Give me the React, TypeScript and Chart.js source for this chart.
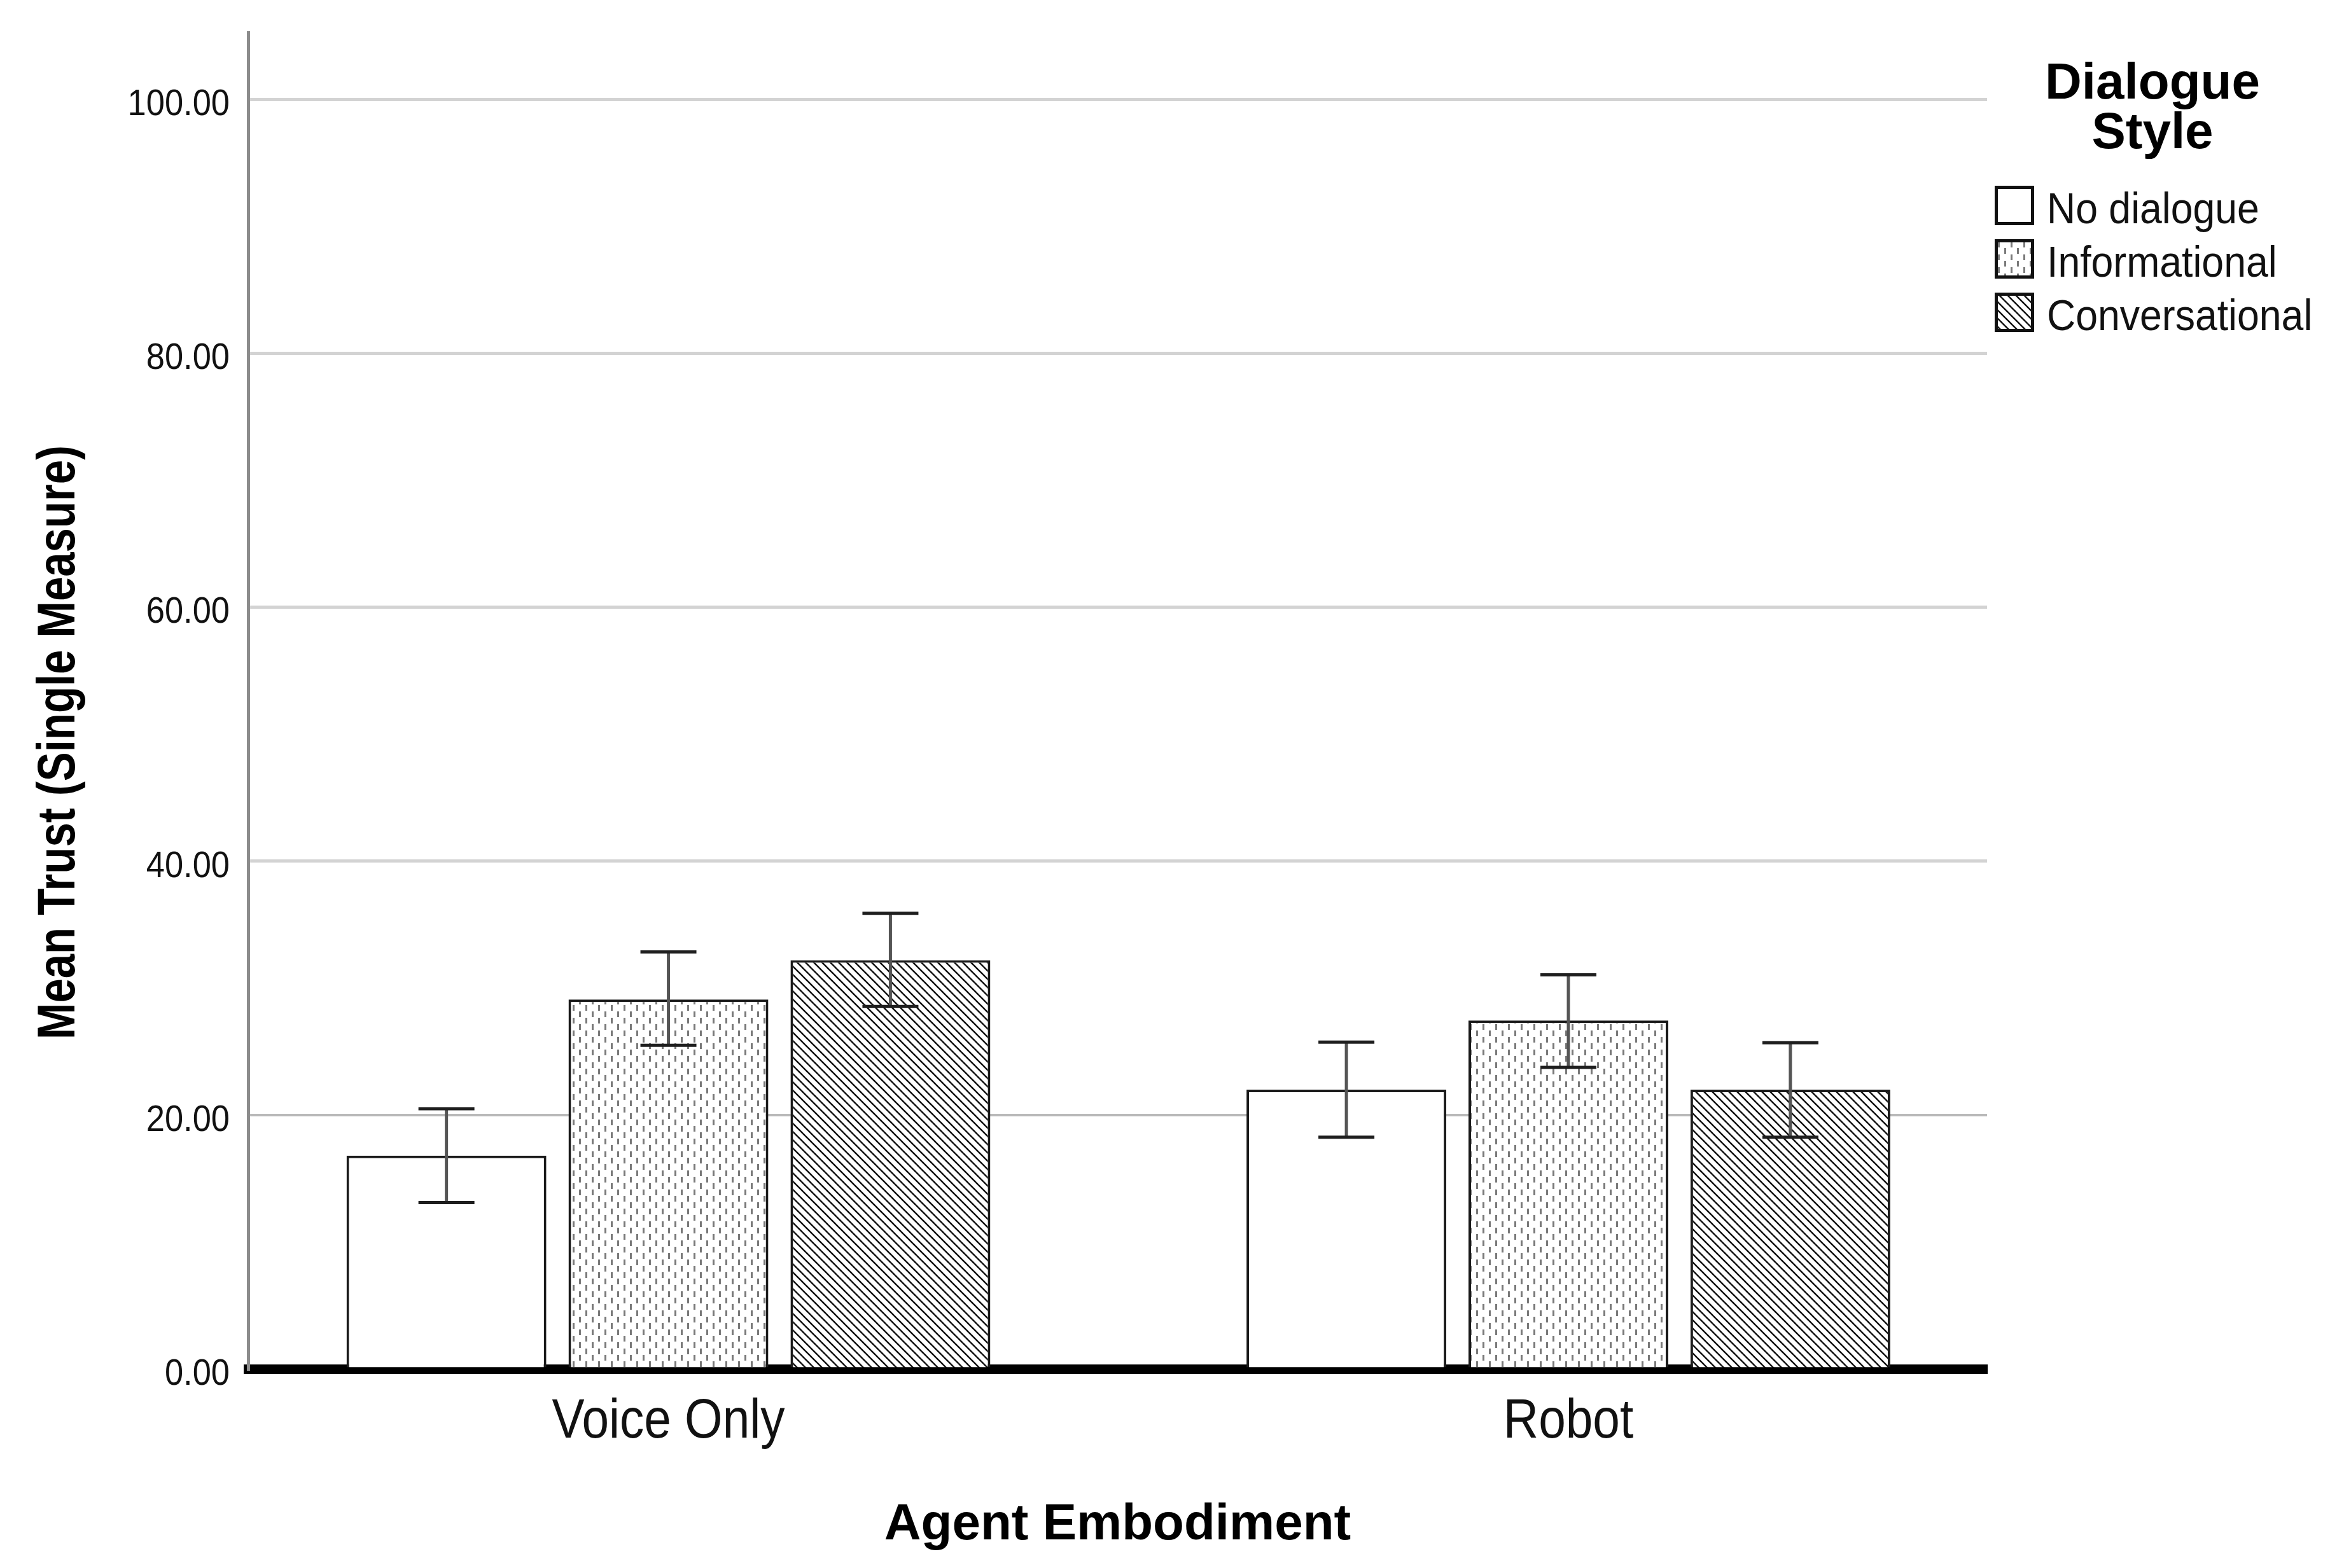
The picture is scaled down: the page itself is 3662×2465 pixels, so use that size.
import { useEffect, useRef } from 'react';
import { Chart, registerables } from 'chart.js';

Chart.register(...registerables);

// data (means with 95% CI bounds)
const embodiments = ['Voice Only', 'Robot'];
const dialogueStyles = ['No dialogue', 'Informational', 'Conversational'];

const noDialogueMean = [16.8, 22.0];
const noDialogueLow = [13.1, 18.25];
const noDialogueHigh = [20.5, 25.75];

const informationalMean = [29.1, 27.45];
const informationalLow = [25.5, 23.75];
const informationalHigh = [32.85, 31.05];

const conversationalMean = [32.2, 22.0];
const conversationalLow = [28.55, 18.25];
const conversationalHigh = [35.9, 25.7];

const yTickStep = 20;

const FONT = "'Liberation Sans', Arial, sans-serif";

const makeDotPattern = () => {
  const c = document.createElement('canvas');
  c.width = 20;
  c.height = 20;
  const g = c.getContext('2d');
  g.fillStyle = '#ffffff';
  g.fillRect(0, 0, 20, 20);
  g.fillStyle = '#7a7a7a';
  g.fillRect(0, 0, 3, 9);
  g.fillRect(10, 10, 3, 9);
  return g.createPattern(c, 'repeat');
};

const makeHatchPattern = () => {
  const s = 13;
  const c = document.createElement('canvas');
  c.width = s;
  c.height = s;
  const g = c.getContext('2d');
  g.fillStyle = '#ffffff';
  g.fillRect(0, 0, s, s);
  g.strokeStyle = '#111111';
  g.lineWidth = 2.4;
  for (const off of [-s, 0, s]) {
    g.beginPath();
    g.moveTo(-1, -1 + off);
    g.lineTo(s + 1, s + 1 + off);
    g.stroke();
  }
  return g.createPattern(c, 'repeat');
};

// narrow-looking text: squeeze horizontally
const squeezedText = (ctx, text, x, y, sx) => {
  ctx.save();
  ctx.translate(x, y);
  ctx.scale(sx, 1);
  ctx.fillText(text, 0, 0);
  ctx.restore();
};

const App = () => {
  const canvasRef = useRef<HTMLCanvasElement | null>(null);

  useEffect(() => {
    document.body.style.margin = '0';
    document.body.style.overflow = 'hidden';
    const canvas = canvasRef.current;
    if (!canvas) return;

    const dots = makeDotPattern();
    const hatch = makeHatchPattern();
    const fills = ['#ffffff', dots, hatch];
    const lows = [noDialogueLow, informationalLow, conversationalLow];
    const highs = [noDialogueHigh, informationalHigh, conversationalHigh];

    const decor = {
      id: 'spssDecor',
      afterDatasetsDraw(chart) {
        const { ctx } = chart;
        const yScale = chart.scales.y;
        ctx.save();
        lows.forEach((low, d) => {
          const meta = chart.getDatasetMeta(d);
          meta.data.forEach((bar, i) => {
            const x = bar.x;
            const yHi = yScale.getPixelForValue(highs[d][i]);
            const yLo = yScale.getPixelForValue(low[i]);
            ctx.strokeStyle = '#555555';
            ctx.lineWidth = 5;
            ctx.beginPath();
            ctx.moveTo(x, yHi);
            ctx.lineTo(x, yLo);
            ctx.stroke();
            ctx.strokeStyle = '#1e1e1e';
            ctx.beginPath();
            ctx.moveTo(x - 44, yHi);
            ctx.lineTo(x + 44, yHi);
            ctx.moveTo(x - 44, yLo);
            ctx.lineTo(x + 44, yLo);
            ctx.stroke();
          });
        });
        ctx.restore();
      },
      afterDraw(chart) {
        const { ctx, chartArea } = chart;
        const xScale = chart.scales.x;
        const yScale = chart.scales.y;
        ctx.save();
        ctx.fillStyle = '#111111';

        // y tick labels
        ctx.font = `57px ${FONT}`;
        ctx.textAlign = 'right';
        ctx.textBaseline = 'middle';
        yScale.ticks.forEach((t) => {
          squeezedText(ctx, Number(t.value).toFixed(2), chartArea.left - 29, yScale.getPixelForValue(t.value) + 9, 0.92);
        });

        // x tick labels
        ctx.font = `88px ${FONT}`;
        ctx.textAlign = 'center';
        ctx.textBaseline = 'alphabetic';
        xScale.ticks.forEach((t) => {
          squeezedText(ctx, embodiments[t.value] ?? '', xScale.getPixelForValue(t.value), 2260, 0.87);
        });

        ctx.fillStyle = '#000000';
        // x axis title
        ctx.font = `bold 80px ${FONT}`;
        ctx.fillText('Agent Embodiment', (chartArea.left + chartArea.right) / 2, 2420);

        // y axis title (condensed)
        ctx.save();
        ctx.translate(117, 1167);
        ctx.rotate(-Math.PI / 2);
        ctx.scale(0.82, 1);
        ctx.font = `bold 84px ${FONT}`;
        ctx.fillText('Mean Trust (Single Measure)', 0, 0);
        ctx.restore();

        // legend
        ctx.font = `bold 80px ${FONT}`;
        ctx.textAlign = 'center';
        ctx.fillText('Dialogue', 3383, 155);
        ctx.fillText('Style', 3383, 233);

        ctx.textAlign = 'left';
        ctx.font = `68px ${FONT}`;
        dialogueStyles.forEach((name, i) => {
          const top = 292 + i * 84;
          ctx.fillStyle = fills[i];
          ctx.fillRect(3135, top, 62, 62);
          ctx.strokeStyle = '#111111';
          ctx.lineWidth = 5;
          ctx.strokeRect(3137.5, top + 2.5, 57, 57);
          ctx.fillStyle = '#111111';
          squeezedText(ctx, name, 3217, top + 59, 0.92);
        });
        ctx.restore();
      },
    };

    const toPoints = (arr: number[]) => arr.map((y, i) => ({ x: i, y }));

    const chart = new Chart(canvas, {
      type: 'bar',
      data: {
        datasets: [
          { label: dialogueStyles[0], data: toPoints(noDialogueMean), backgroundColor: '#ffffff' },
          { label: dialogueStyles[1], data: toPoints(informationalMean), backgroundColor: dots },
          { label: dialogueStyles[2], data: toPoints(conversationalMean), backgroundColor: hatch },
        ],
      },
      options: {
        animation: false,
        responsive: false,
        devicePixelRatio: 1,
        layout: { padding: { left: 0, right: 539, top: 51, bottom: 0 } },
        datasets: {
          bar: {
            borderColor: '#1a1a1a',
            borderWidth: 4,
            categoryPercentage: 0.74,
            barPercentage: 0.9,
          },
        },
        plugins: {
          legend: { display: false },
          tooltip: { enabled: false },
          title: { display: false },
        },
        scales: {
          x: {
            type: 'linear',
            offset: false,
            min: -0.467,
            max: 1.4652,
            afterBuildTicks: (scale) => {
              scale.ticks = embodiments.map((_, i) => ({ value: i }));
            },
            afterFit: (scale) => {
              scale.height = 2465 - 2152;
            },
            grid: { display: false, drawTicks: false, offset: false },
            border: { display: true, color: '#000000', width: 15 },
            ticks: { display: false },
          },
          y: {
            min: 0,
            max: 105.29,
            afterFit: (scale) => {
              scale.width = 390;
            },
            grid: {
              drawTicks: false,
              color: (ctx) => (ctx.tick && ctx.tick.value === 20 ? '#b9b9b9' : '#d3d3d3'),
              lineWidth: (ctx) => (ctx.tick && ctx.tick.value === 20 ? 4 : 5),
            },
            border: { display: true, color: '#8c8c8c', width: 5 },
            ticks: {
              display: false,
              stepSize: yTickStep,
              includeBounds: false,
            },
          },
        },
      },
      plugins: [decor],
    });

    return () => {
      chart.destroy();
    };
  }, []);

  return (
    <div style={{ position: 'fixed', left: 0, top: 0, width: 3662, height: 2465, background: '#ffffff' }}>
      <canvas ref={canvasRef} width={3662} height={2465} style={{ width: 3662, height: 2465 }} />
    </div>
  );
};

export default App;
